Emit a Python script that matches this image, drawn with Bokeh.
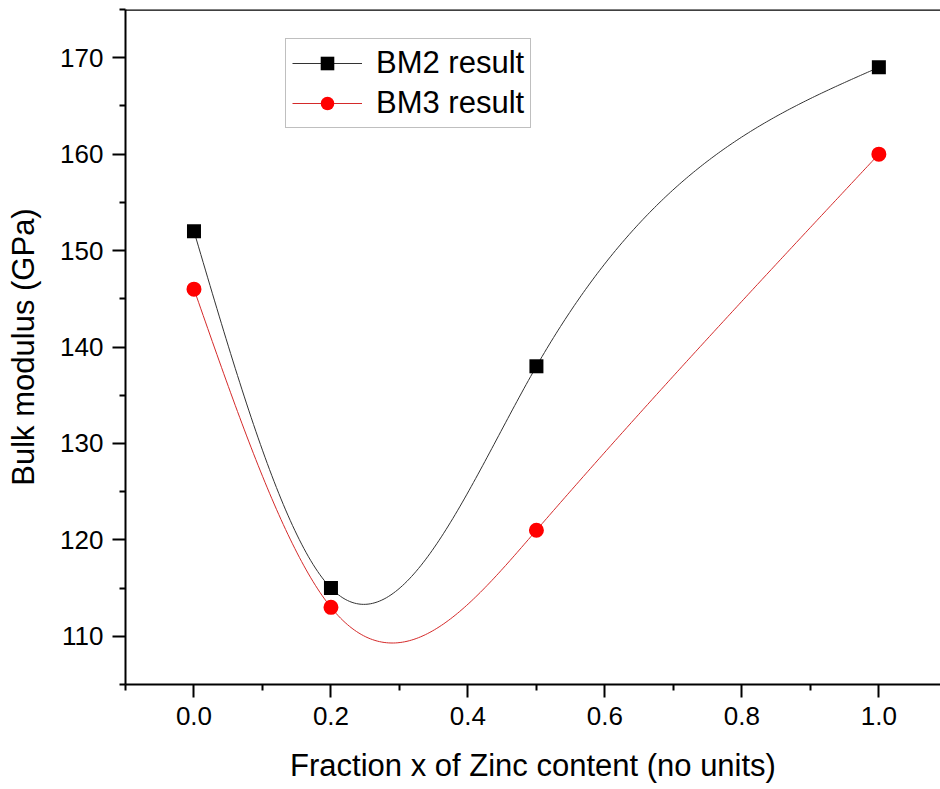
import numpy as np
from bokeh.plotting import figure
from bokeh.models import (Legend, LegendItem, FixedTicker, Range1d, Span)
from bokeh.embed import file_html
from bokeh.resources import INLINE

# ---- data ----
x_frac = [0.0, 0.2, 0.5, 1.0]
bm2 = [152, 115, 138, 169]
bm3 = [146, 113, 121, 160]
x_major = [0.0, 0.2, 0.4, 0.6, 0.8, 1.0]
x_minor = [-0.1, 0.1, 0.3, 0.5, 0.7, 0.9, 1.1]
y_major = [110, 120, 130, 140, 150, 160, 170]
y_minor = [105, 115, 125, 135, 145, 155, 165, 175]
x_title = "Fraction x of Zinc content (no units)"
y_title = "Bulk modulus (GPa)"
names = ["BM2 result", "BM3 result"]

FONT = "Liberation Sans"


def natural_spline(xs, ys, n=300):
    xs = np.asarray(xs, float)
    ys = np.asarray(ys, float)
    k = len(xs)
    h = np.diff(xs)
    A = np.zeros((k, k))
    b = np.zeros(k)
    A[0, 0] = 1
    A[-1, -1] = 1
    for i in range(1, k - 1):
        A[i, i - 1] = h[i - 1]
        A[i, i] = 2 * (h[i - 1] + h[i])
        A[i, i + 1] = h[i]
        b[i] = 6 * ((ys[i + 1] - ys[i]) / h[i] - (ys[i] - ys[i - 1]) / h[i - 1])
    M = np.linalg.solve(A, b)
    xx = np.linspace(xs[0], xs[-1], n)
    yy = np.empty_like(xx)
    for j, t in enumerate(xx):
        i = min(np.searchsorted(xs, t, side="right") - 1, k - 2)
        i = max(i, 0)
        a = xs[i + 1] - t
        c = t - xs[i]
        yy[j] = (M[i] * a ** 3 / (6 * h[i]) + M[i + 1] * c ** 3 / (6 * h[i])
                 + (ys[i] / h[i] - M[i] * h[i] / 6) * a
                 + (ys[i + 1] / h[i] - M[i + 1] * h[i] / 6) * c)
    return xx, yy


p = figure(width=940, height=789, output_backend="svg", toolbar_location=None,
           x_range=Range1d(-0.1, 1.09), y_range=Range1d(105, 175),
           min_border_left=125, min_border_top=9, min_border_right=0,
           min_border_bottom=105)
p.grid.visible = False
p.outline_line_color = None
p.background_fill_color = "white"
p.border_fill_color = "white"

x2, y2 = natural_spline(x_frac, bm2)
x3, y3 = natural_spline(x_frac, bm3)
l2 = p.line(x2, y2, line_color="#333333", line_width=1)
l3 = p.line(x3, y3, line_color="#d42a2a", line_width=1)
s2 = p.scatter(x_frac, bm2, marker="square", size=14, fill_color="black",
               line_color="black", line_width=0)
s3 = p.scatter(x_frac, bm3, marker="circle", size=15, fill_color="#ff0000",
               line_color="#ff0000", line_width=0)

p.add_layout(Span(location=175, dimension="width", line_color="black",
                  line_width=2.5))

for ax in (p.xaxis[0], p.yaxis[0]):
    ax.axis_line_width = 2
    ax.major_tick_line_width = 2
    ax.minor_tick_line_width = 2
    ax.major_tick_in = 0
    ax.major_tick_out = 13
    ax.minor_tick_in = 0
    ax.minor_tick_out = 6
    ax.major_label_text_font = FONT
    ax.major_label_text_font_size = "26px"
    ax.major_label_text_color = "black"
    ax.axis_label_text_font = FONT
    ax.axis_label_text_font_size = "31px"
    ax.axis_label_text_font_style = "normal"
    ax.axis_label_text_color = "black"
    ax.major_label_standoff = 9

p.xaxis[0].ticker = FixedTicker(ticks=x_major, minor_ticks=x_minor)
p.yaxis[0].ticker = FixedTicker(ticks=y_major, minor_ticks=y_minor)
p.xaxis[0].major_label_overrides = {v: f"{v:.1f}" for v in x_major}
p.xaxis[0].axis_label = x_title
p.yaxis[0].axis_label = y_title
p.xaxis[0].axis_label_standoff = 20
p.yaxis[0].axis_label_standoff = 16

legend = Legend(items=[LegendItem(label=names[0], renderers=[l2, s2]),
                       LegendItem(label=names[1], renderers=[l3, s3])],
                location=(160, 556), orientation="vertical")
legend.label_text_font = FONT
legend.label_text_font_size = "31px"
legend.label_text_color = "black"
legend.glyph_width = 70
legend.glyph_height = 34
legend.label_height = 34
legend.spacing = 4
legend.padding = 6
legend.margin = 0
legend.label_standoff = 14
legend.border_line_color = "#808080"
legend.border_line_width = 1
legend.background_fill_alpha = 1
p.add_layout(legend, "center")

open("out.html", "w").write(file_html(p, INLINE))
